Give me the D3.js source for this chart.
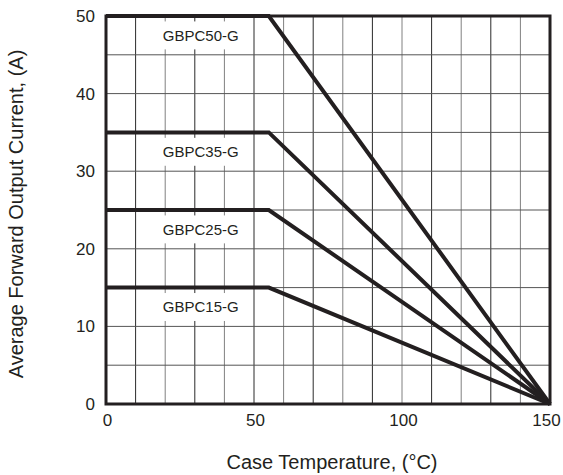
<!DOCTYPE html>
<html>
<head>
<meta charset="utf-8">
<script src="https://cdn.jsdelivr.net/npm/d3@7"></script>
<style>
  body { margin: 0; background: #fff; }
  text { font-family: Arial, "Liberation Sans", sans-serif; fill: #231f20; }
</style>
</head>
<body>
<div id="chart-area"></div>
<script>
// derating curves: flat up to the knee, then straight down to 150 degC
const series = ["GBPC50-G", "GBPC35-G", "GBPC25-G", "GBPC15-G"]
const ratedCurrent = [50, 35, 25, 15]
const kneeTemp = [55, 55, 55, 55]
const endTemp = 150
const xTicks = [0, 50, 100, 150]
const yTicks = [0, 10, 20, 30, 40, 50]

const margin = { top: 16, right: 13, bottom: 71, left: 106 }
const width = 563 - margin.left - margin.right,
      height = 475 - margin.top - margin.bottom

const svg = d3.select("#chart-area").append("svg")
    .attr("width", 563)
    .attr("height", 475)

const g = svg.append("g")
    .attr("transform", "translate(" + margin.left + "," + margin.top + ")")

const x = d3.scaleLinear().domain([0, 150]).range([0, width])
const y = d3.scaleLinear().domain([0, 50]).range([height, 0])

// grid, 10 degC by 5 A
g.selectAll(".vgrid")
    .data(d3.range(10, 150, 10))
    .enter().append("line")
        .attr("class", "vgrid")
        .attr("x1", d => x(d)).attr("x2", d => x(d))
        .attr("y1", 0).attr("y2", height)
        .attr("stroke", d => (d / 10) % 2 ? "#2a2a2a" : "#808080")
        .attr("stroke-width", 1)

g.selectAll(".hgrid")
    .data(d3.range(5, 50, 5))
    .enter().append("line")
        .attr("class", "hgrid")
        .attr("x1", 0).attr("x2", width)
        .attr("y1", d => y(d)).attr("y2", d => y(d))
        .attr("stroke", "#555")
        .attr("stroke-width", 1)

// labels sit on a white patch that hides the grid
const labels = g.selectAll(".lbl")
    .data(series)
    .enter().append("g")
        .attr("class", "lbl")

labels.append("rect")
    .attr("x", x(14))
    .attr("width", x(48) - x(14))
    .attr("y", (d, i) => y(ratedCurrent[i] - 0.7))
    .attr("height", y(0) - y(3.6))
    .attr("fill", "#fff")

labels.append("text")
    .attr("x", x(32))
    .attr("y", (d, i) => y(ratedCurrent[i] - 2.5))
    .attr("dy", "0.35em")
    .attr("text-anchor", "middle")
    .attr("font-size", "15px")
    .text(d => d)

const line = d3.line()
    .x(d => x(d[0]))
    .y(d => y(d[1]))

g.selectAll(".curve")
    .data(series)
    .enter().append("path")
        .attr("class", "curve")
        .attr("d", (d, i) => line([[0, ratedCurrent[i]], [kneeTemp[i], ratedCurrent[i]], [endTemp, 0]]))
        .attr("fill", "none")
        .attr("stroke", "#231f20")
        .attr("stroke-width", 4)
        .attr("stroke-linejoin", "miter")

// frame
g.append("rect")
    .attr("width", width)
    .attr("height", height)
    .attr("fill", "none")
    .attr("stroke", "#231f20")
    .attr("stroke-width", 3)

const xAxisCall = d3.axisBottom(x).tickValues(xTicks).tickSize(0).tickPadding(10)
g.append("g")
    .attr("class", "x axis")
    .attr("transform", "translate(0," + height + ")")
    .call(xAxisCall)
    .call(a => a.select(".domain").remove())
    .selectAll("text")
        .attr("font-size", "17px")
        .attr("fill", "#231f20")
        .attr("dx", d => d === 150 ? -4 : 1)
        .style("font-family", "Arial, 'Liberation Sans', sans-serif")

const yAxisCall = d3.axisLeft(y).tickValues(yTicks).tickSize(0).tickPadding(11)
g.append("g")
    .attr("class", "y axis")
    .call(yAxisCall)
    .call(a => a.select(".domain").remove())
    .selectAll("text")
        .attr("font-size", "17px")
        .attr("fill", "#231f20")
        .style("font-family", "Arial, 'Liberation Sans', sans-serif")

g.append("text")
    .attr("class", "x axis-label")
    .attr("x", width / 2 + 4)
    .attr("y", height + 65)
    .attr("font-size", "20px")
    .attr("text-anchor", "middle")
    .text("Case Temperature, (°C)")

g.append("text")
    .attr("class", "y axis-label")
    .attr("x", -(height / 2) - 4)
    .attr("y", -83)
    .attr("font-size", "20px")
    .attr("text-anchor", "middle")
    .attr("transform", "rotate(-90)")
    .text("Average Forward Output Current, (A)")
</script>
</body>
</html>
